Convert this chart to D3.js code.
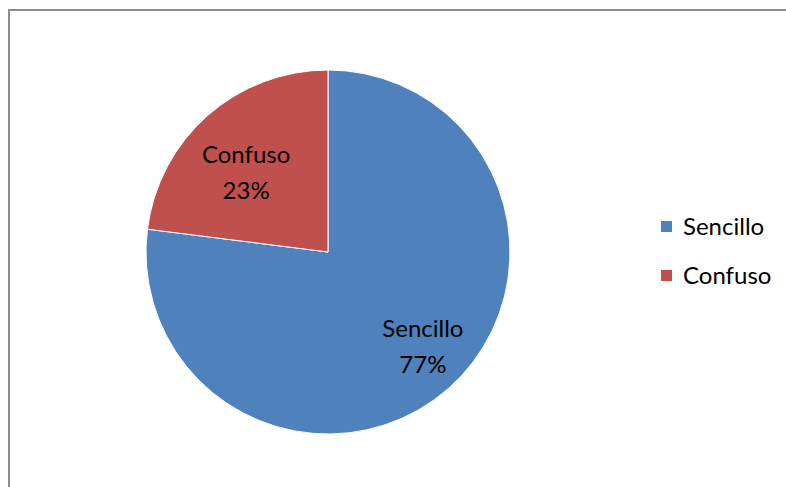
<!DOCTYPE html>
<html>
<head>
<meta charset="utf-8">
<script src="https://cdn.jsdelivr.net/npm/d3@7"></script>
<style>
  body { margin: 0; background: #fff; }
</style>
</head>
<body>
<div id="chart"></div>
<script>
// data
const categories = ["Sencillo", "Confuso"];
const values = [77, 23];
const colors = ["#4F81BD", "#C0504D"];

const width = 786, height = 487;
const fontFam = "Lato, sans-serif";
const fontSize = "24px";

const svg = d3.select("#chart").append("svg")
    .attr("width", width)
    .attr("height", height);

// chart frame
svg.append("path")
    .attr("d", "M9,487 L9,10 L786,10")
    .attr("fill", "none")
    .attr("stroke", "#8c8c8c")
    .attr("stroke-width", 2);

const cx = 328, cy = 252, r = 182;

const pie = d3.pie().sort(null).value(d => d.value);
const arcs = pie(categories.map((c, i) => ({ name: c, value: values[i] })));
const arc = d3.arc().innerRadius(0).outerRadius(r);
const labelArc = d3.arc().innerRadius(r * 0.68).outerRadius(r * 0.68);

const color = d3.scaleOrdinal().domain(categories).range(colors);

const g = svg.append("g").attr("transform", `translate(${cx},${cy})`);

g.selectAll("path.slice")
    .data(arcs)
    .enter().append("path")
    .attr("class", "slice")
    .attr("d", arc)
    .attr("fill", d => color(d.data.name))
    .attr("stroke", "#fff")
    .attr("stroke-width", 1);

const total = d3.sum(values);

// small nudges so labels sit like excel puts them
const nudge = [[13, -2], [0, 10]];

const labels = g.selectAll("text.lbl")
    .data(arcs)
    .enter().append("text")
    .attr("class", "lbl")
    .attr("transform", (d, i) => {
        const c = labelArc.centroid(d);
        return `translate(${c[0] + nudge[i][0]},${c[1] + nudge[i][1]})`;
    })
    .attr("text-anchor", "middle")
    .attr("font-family", fontFam)
    .attr("font-size", fontSize)
    .attr("fill", "#000");

labels.append("tspan")
    .attr("x", 0)
    .attr("y", -6)
    .text(d => d.data.name);

labels.append("tspan")
    .attr("x", 0)
    .attr("y", 30)
    .text(d => Math.round(d.data.value / total * 100) + "%");

// legend
const legend = svg.append("g").attr("transform", "translate(661,221)");
const item = legend.selectAll("g")
    .data(categories)
    .enter().append("g")
    .attr("transform", (d, i) => `translate(0,${i * 49})`);

item.append("rect")
    .attr("width", 11)
    .attr("height", 11)
    .attr("fill", d => color(d));

item.append("text")
    .attr("x", 22)
    .attr("y", 14)
    .attr("font-family", fontFam)
    .attr("font-size", fontSize)
    .attr("fill", "#000")
    .text(d => d);
</script>
</body>
</html>
